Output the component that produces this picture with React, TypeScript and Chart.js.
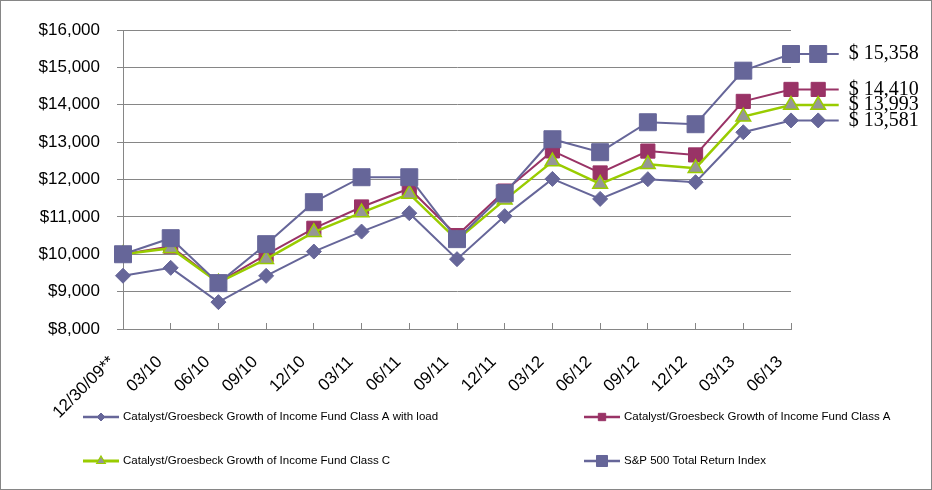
import React, { useEffect, useRef } from 'react';
import { Chart, registerables } from 'chart.js';

Chart.register(...registerables);

// ---------- data ----------
const xLabels = [
  '12/30/09**', '03/10', '06/10', '09/10', '12/10', '03/11', '06/11', '09/11',
  '12/11', '03/12', '06/12', '09/12', '12/12', '03/13', '06/13',
];

const seriesNames = [
  'Catalyst/Groesbeck Growth of Income Fund Class A with load',
  'Catalyst/Groesbeck Growth of Income Fund Class A',
  'Catalyst/Groesbeck Growth of Income Fund Class C',
  'S&P 500 Total Return Index',
];

const classAWithLoad = [9425, 9636, 8719, 9422, 10072, 10607, 11099, 9869, 11020, 12016, 11481, 12008, 11928, 13265, 13581];
const classA = [10000, 10215, 9250, 9990, 10695, 11265, 11760, 10500, 11690, 12765, 12175, 12760, 12658, 14090, 14410];
const classC = [10000, 10163, 9240, 9869, 10591, 11115, 11615, 10385, 11455, 12479, 11882, 12409, 12302, 13682, 13993];
const sp500 = [10000, 10430, 9227, 10270, 11393, 12061, 12061, 10404, 11633, 13077, 12730, 13532, 13479, 14912, 15358];

const yMin = 8000;
const yMax = 16000;
const yStep = 1000;

// end-of-line label marker positions in x-axis units
const END_MARKER_X = 14.57;
const END_LINE_X = 15.0;

// ---------- styles ----------
const SANS = '"Liberation Sans", Arial, sans-serif';
const SERIF = '"Liberation Serif", "Times New Roman", serif';
const GRID = '#868686';

type Style = 'rect' | 'rectRot' | 'triangle';
interface SeriesStyle {
  color: string;
  fill: string;
  stroke: string;
  style: Style;
  r: number;
  legendR: number;
  lineWidth: number;
  order: number;
}

const styles: SeriesStyle[] = [
  { color: '#666699', fill: '#666699', stroke: '#666699', style: 'rectRot', r: 7.5, legendR: 4, lineWidth: 2, order: 3 },
  { color: '#993366', fill: '#993366', stroke: '#993366', style: 'rect', r: 10, legendR: 5.2, lineWidth: 2, order: 2 },
  { color: '#99CC00', fill: '#969696', stroke: '#99CC00', style: 'triangle', r: 8.5, legendR: 5, lineWidth: 2.5, order: 1 },
  { color: '#666699', fill: '#666699', stroke: '#666699', style: 'rect', r: 12, legendR: 7.8, lineWidth: 2, order: 0 },
];

const allValues = [classAWithLoad, classA, classC, sp500];

function drawMarker(ctx: CanvasRenderingContext2D, style: Style, x: number, y: number, r: number, fill: string, stroke: string, bw: number) {
  ctx.beginPath();
  if (style === 'rect') {
    const s = r * Math.SQRT1_2;
    ctx.rect(x - s, y - s, 2 * s, 2 * s);
  } else if (style === 'rectRot') {
    ctx.moveTo(x - r, y);
    ctx.lineTo(x, y - r);
    ctx.lineTo(x + r, y);
    ctx.lineTo(x, y + r);
    ctx.closePath();
  } else {
    const a = (2 * Math.PI) / 3;
    ctx.moveTo(x, y - r);
    ctx.lineTo(x + Math.sin(a) * r, y - Math.cos(a) * r);
    ctx.lineTo(x - Math.sin(a) * r, y - Math.cos(a) * r);
    ctx.closePath();
  }
  ctx.fillStyle = fill;
  ctx.fill();
  ctx.lineWidth = bw;
  ctx.strokeStyle = stroke;
  ctx.stroke();
}

const framePlugin = {
  id: 'frame',
  beforeDraw(chart: any) {
    const ctx = chart.ctx;
    ctx.save();
    ctx.fillStyle = '#ffffff';
    ctx.fillRect(0, 0, chart.width, chart.height);
    ctx.restore();
  },
  afterDraw(chart: any) {
    const ctx = chart.ctx;
    ctx.save();
    ctx.strokeStyle = GRID;
    ctx.lineWidth = 1;
    ctx.strokeRect(0.5, 0.5, chart.width - 1, chart.height - 1);
    ctx.restore();
  },
};

const endLabelPlugin = {
  id: 'endLabels',
  afterDatasetsDraw(chart: any) {
    const ctx = chart.ctx;
    const xs = chart.scales.x;
    const ys = chart.scales.y;
    ctx.save();
    const idx = [0, 1, 2, 3].sort((a, b) => styles[b].order - styles[a].order);
    idx.forEach((i) => {
      const st = styles[i];
      const vals = allValues[i];
      const last = vals[vals.length - 1];
      drawMarker(ctx, st.style, xs.getPixelForValue(END_MARKER_X), ys.getPixelForValue(last), st.r, st.fill, st.stroke, st.style === 'triangle' ? 1.5 : 1);
    });
    ctx.font = '20px ' + SERIF;
    ctx.fillStyle = '#000';
    ctx.textBaseline = 'middle';
    ctx.textAlign = 'left';
    allValues.forEach((vals) => {
      const last = vals[vals.length - 1];
      ctx.fillText('$ ' + last.toLocaleString('en-US'), xs.getPixelForValue(END_LINE_X) + 10, ys.getPixelForValue(last));
    });
    ctx.restore();
  },
};

const legendPos = [
  { x: 83, y: 417 },
  { x: 584, y: 417 },
  { x: 83, y: 461 },
  { x: 584, y: 461 },
];

const legendPlugin = {
  id: 'customLegend',
  afterDraw(chart: any) {
    const ctx = chart.ctx;
    ctx.save();
    ctx.font = '11.5px ' + SANS;
    ctx.textBaseline = 'middle';
    ctx.textAlign = 'left';
    seriesNames.forEach((name, i) => {
      const st = styles[i];
      const p = legendPos[i];
      ctx.beginPath();
      ctx.moveTo(p.x, p.y);
      ctx.lineTo(p.x + 36, p.y);
      ctx.strokeStyle = st.color;
      ctx.lineWidth = st.lineWidth + 0.5;
      ctx.stroke();
      drawMarker(ctx, st.style, p.x + 18, p.y, st.legendR, st.fill, st.stroke, st.style === 'triangle' ? 1.2 : 1);
      ctx.fillStyle = '#000';
      ctx.fillText(name, p.x + 40, p.y);
    });
    ctx.restore();
  },
};

export default function App() {
  const ref = useRef<HTMLCanvasElement>(null);

  useEffect(() => {
    const datasets = allValues.map((vals, i) => {
      const st = styles[i];
      const last = vals[vals.length - 1];
      const n = vals.length;
      return {
        label: seriesNames[i],
        data: [
          ...vals.map((v, k) => ({ x: k, y: v })),
          { x: END_MARKER_X, y: last },
          { x: END_LINE_X, y: last },
        ],
        borderColor: st.color,
        borderWidth: st.lineWidth,
        backgroundColor: st.fill,
        pointStyle: st.style,
        pointRadius: (c: any) => (c.dataIndex >= n ? 0 : st.r),
        pointHoverRadius: (c: any) => (c.dataIndex >= n ? 0 : st.r),
        pointBackgroundColor: st.fill,
        pointBorderColor: st.stroke,
        pointBorderWidth: st.style === 'triangle' ? 1.5 : 1,
        tension: 0,
        clip: false as any,
        order: st.order,
      };
    });

    const chart = new Chart(ref.current as HTMLCanvasElement, {
      type: 'line',
      data: { datasets: datasets as any },
      options: {
        animation: false,
        responsive: false,
        maintainAspectRatio: false,
        events: [],
        layout: { padding: { left: 0, right: 141, top: 30, bottom: 0 } },
        plugins: {
          legend: { display: false },
          tooltip: { enabled: false },
        },
        scales: {
          x: {
            type: 'linear',
            afterDataLimits: (s: any) => {
              s.min = 0;
              s.max = xLabels.length - 1;
            },
            afterFit: (s: any) => {
              s.height = 161;
            },
            ticks: {
              stepSize: 1,
              autoSkip: false,
              maxRotation: 45,
              minRotation: 45,
              labelOffset: -11,
              padding: 29,
              color: '#000',
              font: { family: SANS, size: 17 },
              callback: (v: any) => (xLabels[v as number] !== undefined ? xLabels[v as number] : ''),
            },
            grid: { drawOnChartArea: false, tickLength: -6, color: GRID, lineWidth: 1 },
            border: { color: GRID, width: 1 },
          },
          y: {
            min: yMin,
            max: yMax,
            afterFit: (s: any) => {
              s.width = 123;
            },
            ticks: {
              stepSize: yStep,
              padding: 17,
              color: '#000',
              font: { family: SANS, size: 17 },
              callback: (v: any) => '$' + Number(v).toLocaleString('en-US'),
            },
            grid: { color: GRID, lineWidth: 1, tickLength: 6 },
            border: { color: GRID, width: 1 },
          },
        },
      },
      plugins: [framePlugin, endLabelPlugin, legendPlugin],
    });
    return () => chart.destroy();
  }, []);

  return (
    <div style={{ position: 'fixed', left: 0, top: 0, width: 932, height: 490, background: '#fff' }}>
      <canvas ref={ref} width={932} height={490} style={{ display: 'block', width: 932, height: 490 }} />
    </div>
  );
}
